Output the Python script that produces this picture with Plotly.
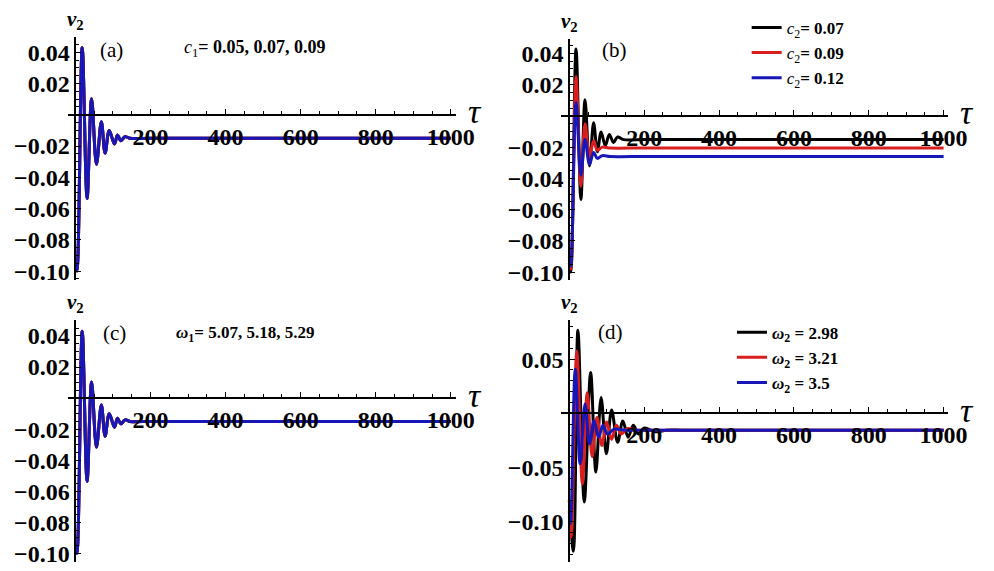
import plotly.graph_objects as go

# ---------------- data ----------------
# (a) c1 = 0.05, 0.07, 0.09 : the three responses coincide
tau_a = [0, 4, 18, 31, 43, 56, 69, 79, 90, 104, 112, 121, 132, 145, 200, 300, 1000]
v_a = [-0.094, -0.100, 0.043, -0.0535, 0.0103, -0.0316, -0.0045, -0.0245,
       -0.0101, -0.0187, -0.0129, -0.0166, -0.0140, -0.0150, -0.0150, -0.0150, -0.0150]

# (b) c2 = 0.07, 0.09, 0.12
tau_b1 = [0, 4, 18, 31, 42, 54, 65, 75, 85, 96, 107, 118, 129, 145, 200, 300, 1000]
v_b1 = [-0.094, -0.100, 0.0428, -0.0535, 0.0103, -0.032, -0.0045, -0.023,
        -0.0103, -0.019, -0.012, -0.017, -0.0135, -0.0152, -0.0152, -0.0152, -0.0152]
tau_b2 = [0, 4, 18, 31, 42, 54, 65, 75, 88, 110, 200, 300, 1000]
v_b2 = [-0.092, -0.098, 0.025, -0.045, -0.005, -0.0265, -0.016, -0.022,
        -0.0200, -0.0206, -0.0205, -0.0205, -0.0205]
tau_b3 = [0, 4, 18, 31, 42, 54, 65, 75, 88, 110, 200, 300, 1000]
v_b3 = [-0.090, -0.096, 0.0084, -0.038, -0.015, -0.031, -0.0235, -0.0272,
        -0.0255, -0.026, -0.026, -0.026, -0.026]

# (c) omega1 = 5.07, 5.18, 5.29 : the three responses coincide
tau_c = [0, 4, 18, 31, 43, 56, 69, 79, 90, 104, 112, 121, 132, 145, 200, 300, 1000]
v_c = [-0.094, -0.100, 0.043, -0.0535, 0.0103, -0.0316, -0.0045, -0.0245,
       -0.0101, -0.0187, -0.0129, -0.0166, -0.0140, -0.0150, -0.0150, -0.0150, -0.0150]

# (d) omega2 = 2.98, 3.21, 3.5
tau_d1 = [0, 11, 23, 40, 57, 71, 85, 99, 113, 129, 143, 157, 171, 185, 200, 230,
          260, 300, 350, 1000]
v_d1 = [-0.080, -0.127, 0.0765, -0.0816, 0.0376, -0.054, 0.0147, -0.0373, 0.003,
        -0.0266, -0.007, -0.022, -0.011, -0.019, -0.0135, -0.017, -0.0155, -0.0155,
        -0.0155, -0.0155]
tau_d2 = [0, 5, 20, 35, 48, 61, 74, 87, 100, 113, 126, 139, 155, 180, 230, 300, 1000]
v_d2 = [-0.090, -0.114, 0.0575, -0.065, 0.019, -0.040, -0.0037, -0.0296,
        -0.008, -0.024, -0.011, -0.019, -0.014, -0.0155, -0.0155, -0.0155, -0.0155]
tau_d3 = [0, 3, 16, 29, 42, 54, 66, 78, 90, 102, 120, 150, 200, 300, 1000]
v_d3 = [-0.095, -0.1015, 0.0407, -0.0465, 0.0086, -0.028, -0.0067, -0.022,
        -0.011, -0.019, -0.0145, -0.0155, -0.0155, -0.0155, -0.0155]

labels_b = ["0.07", "0.09", "0.12"]
labels_d = ["2.98", "3.21", "3.5"]
x_ticks = [200, 400, 600, 800, 1000]
y_ticks_abc = [-0.10, -0.08, -0.06, -0.04, -0.02, 0.02, 0.04]
y_ticks_d = [-0.10, -0.05, 0.05]

COLORS = ["#000000", "#d81e1e", "#1717b8"]
SERIF = "Liberation Serif, Times New Roman, serif"
W, H = 994, 571

fig = go.Figure()


def add_curve(tau, v, color, ax, name=None, legend=None):
    fig.add_trace(go.Scatter(
        x=tau, y=v, mode="lines",
        line=dict(color=color, width=3, shape="spline", smoothing=1.0),
        xaxis="x" + ax, yaxis="y" + ax,
        name=name, showlegend=name is not None,
        legend=legend, hoverinfo="skip"))


# panel (a): three coincident curves, blue drawn last
for col in COLORS:
    add_curve(tau_a, v_a, col, "")
# panel (b)
for tau, v, col, lab in zip([tau_b1, tau_b2, tau_b3], [v_b1, v_b2, v_b3], COLORS, labels_b):
    add_curve(tau, v, col, "2", "<i>c</i><sub>2</sub><b>= " + lab + "</b>", "legend")
# panel (c)
for col in COLORS:
    add_curve(tau_c, v_c, col, "3")
# panel (d)
for tau, v, col, lab in zip([tau_d1, tau_d2, tau_d3], [v_d1, v_d2, v_d3], COLORS, labels_d):
    add_curve(tau, v, col, "4", "<b><i>ω</i><sub>2</sub> = " + lab + "</b>", "legend2")


def px_x(p):
    return p / W


def px_y(p):
    return 1 - p / H


# panel boxes in pixels: (left, right, top, bottom), axis ranges
panels = {
    "": dict(box=(69, 465, 37, 283), xr=[-20.9, 1013], yr=[-0.1057, 0.050],
             yt=y_ticks_abc, ydt=0.005),
    "2": dict(box=(573, 967, 39, 283), xr=[-20.9, 1010.5], yr=[-0.105, 0.0494],
              yt=y_ticks_abc, ydt=0.005),
    "3": dict(box=(69, 465, 323, 568), xr=[-20.9, 1013], yr=[-0.1055, 0.0505],
              yt=y_ticks_abc, ydt=0.005),
    "4": dict(box=(573, 967, 323, 568), xr=[-20.9, 1010.5], yr=[-0.137, 0.0864],
              yt=y_ticks_d, ydt=0.01),
}

tickfont = dict(family=SERIF, size=24, color="black", weight="bold")
layout = dict(width=W, height=H, margin=dict(l=0, r=0, t=0, b=0),
              paper_bgcolor="white", plot_bgcolor="white", showlegend=True)

for ax, p in panels.items():
    l, r, t, b = p["box"]
    xd = [px_x(l), px_x(r)]
    yd = [px_y(b), px_y(t)]
    xr, yr = p["xr"], p["yr"]
    x0_pos = xd[0] + (0 - xr[0]) / (xr[1] - xr[0]) * (xd[1] - xd[0])
    y0_pos = yd[0] + (0 - yr[0]) / (yr[1] - yr[0]) * (yd[1] - yd[0])
    layout["xaxis" + ax] = dict(
        domain=xd, range=xr, anchor="free", position=y0_pos,
        showline=True, linecolor="black", linewidth=2,
        showgrid=False, zeroline=False,
        tickmode="array", tickvals=x_ticks, ticks="inside", ticklen=5,
        tickwidth=1, tickcolor="black", tickfont=tickfont,
        minor=dict(dtick=50, tick0=0, ticks="inside", ticklen=3, tickcolor="black", showgrid=False),
    )
    layout["yaxis" + ax] = dict(
        domain=yd, range=yr, anchor="free", position=x0_pos,
        showline=True, linecolor="black", linewidth=2,
        showgrid=False, zeroline=False,
        tickmode="array", tickvals=p["yt"], tickformat=".2f",
        ticks="inside", ticklen=5, tickwidth=1, tickcolor="black", tickfont=tickfont,
        minor=dict(dtick=p["ydt"], tick0=0, ticks="inside", ticklen=3, tickcolor="black", showgrid=False),
    )

legend_font = dict(family=SERIF, size=17, color="black")
layout["legend"] = dict(x=px_x(762), y=px_y(10), xanchor="left", yanchor="top",
                        bgcolor="rgba(0,0,0,0)", font=legend_font, itemwidth=30,
                        tracegroupgap=0)
layout["legend2"] = dict(x=px_x(747), y=px_y(318), xanchor="left", yanchor="top",
                         bgcolor="rgba(0,0,0,0)", font=legend_font, itemwidth=30,
                         tracegroupgap=0)

annotations = []
for ax in ["", "2", "3", "4"]:
    xa = "x" + ax
    ya = "y" + ax
    # tau label at the end of the horizontal axis
    annotations.append(dict(xref=xa + " domain", x=1, yref=ya, y=0, xanchor="left",
                            yanchor="middle", text="<i>τ</i>", showarrow=False,
                            font=dict(family=SERIF, size=34, color="black"), xshift=10, yshift=3))
    # v2 label on top of the vertical axis
    annotations.append(dict(xref=xa, x=0, yref=ya + " domain", y=1, xanchor="center",
                            yanchor="bottom", text="<b><i>v</i><sub>2</sub></b>", showarrow=False,
                            font=dict(family=SERIF, size=21, color="black"), yshift=2))

panel_tags = [("(a)", 114, 51), ("(b)", 627, 51), ("(c)", 117, 337), ("(d)", 623, 336)]
for txt, x, y in panel_tags:
    annotations.append(dict(xref="paper", yref="paper", x=px_x(x), y=px_y(y),
                            xanchor="center", yanchor="middle", text=txt, showarrow=False,
                            font=dict(family=SERIF, size=21, color="black")))

annotations.append(dict(xref="paper", yref="paper", x=px_x(260), y=px_y(49),
                        xanchor="center", yanchor="middle", showarrow=False,
                        text="<i>c</i><sub>1</sub><b>= 0.05, 0.07, 0.09</b>",
                        font=dict(family=SERIF, size=18, color="black")))
annotations.append(dict(xref="paper", yref="paper", x=px_x(250), y=px_y(338),
                        xanchor="center", yanchor="middle", showarrow=False,
                        text="<b><i>ω</i><sub>1</sub>= 5.07, 5.18, 5.29</b>",
                        font=dict(family=SERIF, size=17, color="black")))
layout["annotations"] = annotations

fig.update_layout(**layout)
fig.write_html("out.html")
